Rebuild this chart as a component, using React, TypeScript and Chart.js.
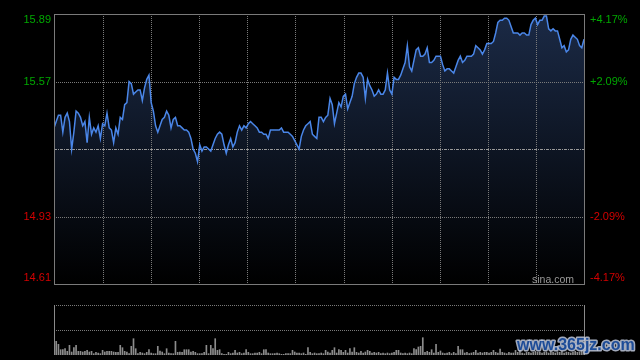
import React, { useEffect, useRef } from 'react';
import { Chart, registerables } from 'chart.js';
Chart.register(...registerables);

const PREV_CLOSE = 15.25;
const PRICE_MIN = 14.61;
const PRICE_MAX = 15.89;
const leftTickValues = [15.89, 15.57, 14.93, 14.61];
const leftTickLabels = ['15.89', '15.57', '14.93', '14.61'];
const rightTickLabels = ['+4.17%', '+2.09%', '-2.09%', '-4.17%'];
const VOLUME_MAX = 5000;
const MINUTES = 240;
const GRID_COLUMNS = 11;

const prices = [
  15.35, 15.38, 15.41, 15.41, 15.33, 15.40, 15.42, 15.38, 15.25, 15.33,
  15.43, 15.42, 15.40, 15.36, 15.38, 15.28, 15.40, 15.32, 15.35, 15.33,
  15.36, 15.30, 15.37, 15.36, 15.42, 15.35, 15.34, 15.28, 15.35, 15.32,
  15.40, 15.39, 15.46, 15.47, 15.57, 15.56, 15.51, 15.52, 15.53, 15.53,
  15.48, 15.54, 15.58, 15.60, 15.47, 15.43, 15.36, 15.33, 15.36, 15.39,
  15.40, 15.43, 15.41, 15.35, 15.39, 15.40, 15.36, 15.36, 15.35, 15.34,
  15.34, 15.33, 15.30, 15.25, 15.23, 15.19, 15.27, 15.24, 15.26, 15.26,
  15.25, 15.24, 15.27, 15.30, 15.32, 15.33, 15.32, 15.27, 15.23, 15.27,
  15.30, 15.26, 15.28, 15.33, 15.36, 15.34, 15.36, 15.35, 15.37, 15.38,
  15.37, 15.36, 15.35, 15.33, 15.33, 15.32, 15.32, 15.30, 15.34, 15.34,
  15.34, 15.34, 15.34, 15.35, 15.33, 15.33, 15.33, 15.32, 15.31, 15.29,
  15.27, 15.25, 15.31, 15.34, 15.36, 15.37, 15.38, 15.32, 15.31, 15.30,
  15.40, 15.40, 15.38, 15.40, 15.41, 15.49, 15.46, 15.37, 15.42, 15.47,
  15.45, 15.50, 15.51, 15.44, 15.47, 15.50, 15.56, 15.59, 15.61, 15.61,
  15.59, 15.49, 15.58, 15.55, 15.53, 15.50, 15.51, 15.53, 15.51, 15.51,
  15.53, 15.61, 15.53, 15.51, 15.59, 15.58, 15.58, 15.60, 15.63, 15.66,
  15.74, 15.64, 15.62, 15.67, 15.72, 15.73, 15.69, 15.69, 15.70, 15.73,
  15.66, 15.66, 15.67, 15.69, 15.69, 15.69, 15.65, 15.62, 15.63, 15.63,
  15.62, 15.61, 15.64, 15.67, 15.69, 15.66, 15.67, 15.69, 15.69, 15.69,
  15.70, 15.74, 15.73, 15.72, 15.70, 15.72, 15.75, 15.75, 15.75, 15.76,
  15.80, 15.85, 15.86, 15.86, 15.87, 15.87, 15.86, 15.83, 15.80, 15.80,
  15.80, 15.79, 15.80, 15.80, 15.79, 15.79, 15.84, 15.86, 15.87, 15.84,
  15.86, 15.86, 15.88, 15.88, 15.82, 15.81, 15.82, 15.81, 15.81, 15.77,
  15.73, 15.74, 15.71, 15.72, 15.77, 15.79, 15.78, 15.77, 15.74, 15.73,
  15.77,
];

const volumes = [
  2530, 1370, 1070, 530, 530, 630, 370, 970, 300, 730,
  970, 370, 370, 300, 370, 470, 300, 370, 130, 270,
  200, 130, 470, 300, 370, 370, 370, 300, 270, 270,
  970, 730, 370, 300, 130, 870, 1630, 630, 130, 270,
  200, 130, 270, 530, 200, 130, 130, 870, 400, 300,
  130, 630, 200, 130, 130, 1370, 270, 300, 270, 530,
  530, 530, 300, 370, 270, 130, 130, 130, 270, 970,
  130, 970, 630, 1630, 470, 530, 130, 70, 70, 270,
  130, 200, 470, 200, 270, 130, 200, 530, 270, 130,
  130, 200, 200, 270, 130, 530, 530, 200, 130, 130,
  130, 200, 130, 70, 70, 130, 130, 130, 470, 300,
  200, 200, 130, 200, 70, 730, 270, 130, 200, 130,
  130, 200, 130, 470, 300, 200, 470, 730, 200, 530,
  470, 270, 470, 200, 630, 300, 730, 270, 200, 370,
  200, 300, 470, 370, 200, 270, 200, 270, 130, 200,
  130, 200, 130, 200, 270, 470, 470, 200, 130, 200,
  130, 200, 130, 630, 530, 800, 870, 1730, 270, 370,
  270, 530, 200, 1070, 270, 400, 200, 130, 200, 270,
  130, 270, 130, 870, 530, 530, 200, 270, 130, 200,
  270, 470, 200, 270, 200, 270, 270, 200, 270, 470,
  270, 200, 600, 270, 200, 130, 270, 200, 200, 470,
  270, 530, 200, 130, 270, 270, 200, 270, 370, 270,
  300, 200, 270, 300, 200, 370, 270, 200, 300, 270,
  370, 200, 300, 270, 200, 300, 370, 270, 300, 470,
  530,
];

const FONT = '11px "Liberation Sans", Arial, sans-serif';
const GREEN = '#00a800';
const RED = '#d40000';

const priceGridPlugin = {
  id: 'priceGrid',
  beforeDatasetsDraw(chart: any) {
    const { ctx, chartArea, scales } = chart;
    const { left, right, top, bottom } = chartArea;
    ctx.save();
    ctx.lineWidth = 1;
    ctx.strokeStyle = '#7a7a7a';
    ctx.setLineDash([1, 1]);
    [leftTickValues[1], leftTickValues[2]].forEach((v) => {
      const y = Math.round(scales.y.getPixelForValue(v)) + 0.5;
      ctx.beginPath();
      ctx.moveTo(left, y);
      ctx.lineTo(right, y);
      ctx.stroke();
    });
    for (let k = 1; k < GRID_COLUMNS; k++) {
      const x = Math.ceil(scales.x.getPixelForValue((k * MINUTES) / GRID_COLUMNS)) + 0.5;
      ctx.beginPath();
      ctx.moveTo(x, top);
      ctx.lineTo(x, bottom);
      ctx.stroke();
    }
    const yc = Math.round(scales.y.getPixelForValue(PREV_CLOSE)) + 0.5;
    ctx.strokeStyle = '#9a9a9a';
    ctx.setLineDash([3, 1, 1, 1]);
    ctx.beginPath();
    ctx.moveTo(left, yc);
    ctx.lineTo(right, yc);
    ctx.stroke();
    ctx.restore();
  },
  afterDraw(chart: any) {
    const { ctx, chartArea, scales } = chart;
    const { left, right, top, bottom } = chartArea;
    ctx.save();
    ctx.setLineDash([]);
    ctx.strokeStyle = '#7a7a7a';
    ctx.lineWidth = 1;
    ctx.strokeRect(left + 0.5, top + 0.5, right - left, bottom - top);
    ctx.font = FONT;
    ctx.textBaseline = 'middle';
    leftTickValues.forEach((v, i) => {
      let y = scales.y.getPixelForValue(v);
      if (i === 0) y += 6;
      if (i === leftTickValues.length - 1) y -= 6;
      const color = v > PREV_CLOSE ? GREEN : RED;
      ctx.fillStyle = color;
      ctx.textAlign = 'right';
      ctx.fillText(leftTickLabels[i], left - 3, y);
      ctx.textAlign = 'left';
      ctx.fillText(rightTickLabels[i], right + 6, y);
    });
    ctx.font = '10.5px "Liberation Sans", Arial, sans-serif';
    ctx.fillStyle = '#9a9a9a';
    ctx.textAlign = 'left';
    ctx.textBaseline = 'alphabetic';
    ctx.fillText('sina.com', 532, bottom - 1);
    ctx.restore();
  },
};

const volumeGridPlugin = {
  id: 'volumeGrid',
  beforeDatasetsDraw(chart: any) {
    const { ctx, chartArea, scales } = chart;
    const { left, right, top, bottom } = chartArea;
    ctx.save();
    ctx.lineWidth = 1;
    ctx.strokeStyle = '#7a7a7a';
    ctx.setLineDash([1, 1]);
    [VOLUME_MAX, VOLUME_MAX / 2].forEach((v) => {
      const y = Math.round(scales.y.getPixelForValue(v)) + 0.5;
      ctx.beginPath();
      ctx.moveTo(left, y);
      ctx.lineTo(right, y);
      ctx.stroke();
    });
    ctx.setLineDash([]);
    ctx.strokeStyle = '#8a8a8a';
    [left + 0.5, right + 0.5].forEach((x) => {
      ctx.beginPath();
      ctx.moveTo(x, top);
      ctx.lineTo(x, bottom);
      ctx.stroke();
    });
    ctx.restore();
  },
  afterDraw(chart: any) {
    const { ctx } = chart;
    ctx.save();
    ctx.font = 'bold 16px "Liberation Sans", Arial, sans-serif';
    ctx.textAlign = 'left';
    ctx.textBaseline = 'alphabetic';
    ctx.lineJoin = 'round';
    ctx.lineWidth = 3;
    ctx.strokeStyle = 'rgba(190,200,220,0.85)';
    ctx.strokeText('www.365jz.com', 517, 60);
    ctx.fillStyle = '#1d4c98';
    ctx.fillText('www.365jz.com', 517, 60);
    ctx.restore();
  },
};

export default function App() {
  const priceRef = useRef<HTMLCanvasElement>(null);
  const volRef = useRef<HTMLCanvasElement>(null);

  useEffect(() => {
    const priceChart = new Chart(priceRef.current!, {
      type: 'line',
      data: {
        datasets: [
          {
            data: prices.map((p, i) => ({ x: i, y: p })),
            borderColor: '#4a86e8',
            borderWidth: 1.5,
            pointRadius: 0,
            tension: 0,
            fill: 'start',
            backgroundColor: (c: any) => {
              const { chart } = c;
              const area = chart.chartArea;
              if (!area) return '#141f33';
              const g = chart.ctx.createLinearGradient(0, area.top, 0, area.bottom);
              g.addColorStop(0, '#1b2a46');
              g.addColorStop(1, '#000000');
              return g;
            },
          },
        ],
      },
      options: {
        responsive: false,
        animation: false,
        layout: { padding: { left: 54, right: 56, top: 14, bottom: 6 } },
        scales: {
          x: { type: 'linear', min: 0, max: MINUTES, display: false },
          y: { type: 'linear', min: PRICE_MIN, max: PRICE_MAX, display: false },
        },
        plugins: {
          legend: { display: false },
          tooltip: { enabled: false },
          filler: { drawTime: 'beforeDatasetsDraw' },
        } as any,
      },
      plugins: [priceGridPlugin],
    });

    const volumeChart = new Chart(volRef.current!, {
      type: 'bar',
      data: {
        datasets: [
          {
            data: volumes.map((v, i) => ({ x: i, y: v })),
            backgroundColor: '#8c8c8c',
            barThickness: 1,
          },
        ],
      },
      options: {
        responsive: false,
        animation: false,
        layout: { padding: { left: 54, right: 56, top: 15, bottom: 5 } },
        scales: {
          x: { type: 'linear', min: 0, max: MINUTES, display: false, offset: false },
          y: { type: 'linear', min: 0, max: VOLUME_MAX, display: false },
        },
        plugins: {
          legend: { display: false },
          tooltip: { enabled: false },
        },
      },
      plugins: [volumeGridPlugin],
    });

    return () => {
      priceChart.destroy();
      volumeChart.destroy();
    };
  }, []);

  return (
    <div
      style={{
        position: 'fixed',
        left: 0,
        top: 0,
        width: 640,
        height: 360,
        background: '#000',
      }}
    >
      <canvas
        ref={priceRef}
        width={640}
        height={290}
        style={{ position: 'absolute', left: 0, top: 0, width: 640, height: 290 }}
      />
      <canvas
        ref={volRef}
        width={640}
        height={70}
        style={{ position: 'absolute', left: 0, top: 290, width: 640, height: 70 }}
      />
    </div>
  );
}
